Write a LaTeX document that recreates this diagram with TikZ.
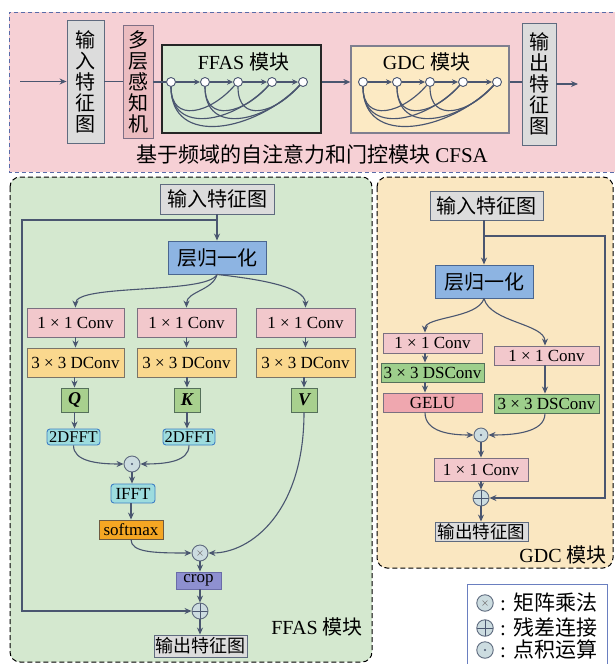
\documentclass[tikz,border=0pt]{standalone}
\usepackage{fontspec}
\setmainfont{Liberation Serif}
\newfontfamily\cjk{Noto Sans CJK SC}
\usetikzlibrary{arrows.meta,calc}
\newcommand\zh[1]{{\cjk #1}}
\newcommand\fsz[1]{\fontsize{#1}{#1}\selectfont}
\definecolor{lnc}{HTML}{4A5670}
\definecolor{pinkbg}{HTML}{F6D0D5}
\definecolor{pinkbd}{HTML}{5A6BA8}
\definecolor{graybox}{HTML}{DCDCDC}
\definecolor{graybd}{HTML}{5F6B7F}
\definecolor{mlpfill}{HTML}{EBBCC0}
\definecolor{mlpbd}{HTML}{7E6F85}
\definecolor{ffgreen}{HTML}{D6E9D3}
\definecolor{gdyellow}{HTML}{FCEAC4}
\definecolor{gdbd}{HTML}{7F7F8F}
\definecolor{pgreen}{HTML}{D4E8CF}
\definecolor{pyellow}{HTML}{FAE7C1}
\definecolor{lnfill}{HTML}{8DB4E2}
\definecolor{lnbd}{HTML}{4A6690}
\definecolor{convfill}{HTML}{F2C8CC}
\definecolor{convbd}{HTML}{7A7080}
\definecolor{dconvfill}{HTML}{FAD88E}
\definecolor{dconvbd}{HTML}{7A7468}
\definecolor{qkvfill}{HTML}{A8D08E}
\definecolor{qkvbd}{HTML}{55705A}
\definecolor{fftfill}{HTML}{9DDCDE}
\definecolor{fftbd}{HTML}{3F7FC4}
\definecolor{softfill}{HTML}{F5A623}
\definecolor{softbd}{HTML}{6E5A40}
\definecolor{cropfill}{HTML}{8E90D0}
\definecolor{cropbd}{HTML}{6A6CA8}
\definecolor{circfill}{HTML}{CCDCE0}
\definecolor{dsfill}{HTML}{9ECF8C}
\definecolor{gelufill}{HTML}{EFA7AF}
\definecolor{legbd}{HTML}{6A7FC0}
\begin{document}
\begin{tikzpicture}[x=1pt,y=-1pt,
  arr/.style={draw=lnc, line width=1.1pt, -{Stealth[length=7pt,width=6pt]}},
  sarr/.style={draw=lnc, line width=1.1pt, -{Stealth[length=6pt,width=5.5pt]}},
  lnk/.style={draw=lnc, line width=1.1pt},
  box/.style={draw=#1, line width=0.9pt, inner sep=0pt, font=\fsz{17}},
  vbox/.style={box=#1, align=center, font=\fontsize{20}{21}\selectfont\cjk},
  pt/.style={circle, draw=lnc, fill=white, line width=0.9pt, minimum size=9pt, inner sep=0pt},
  opc/.style={circle, draw=graybd, fill=circfill, line width=0.9pt, minimum size=16pt, inner sep=0pt},
  dotop/.style={opc, path picture={\fill[lnc] (path picture bounding box.center) circle (1.1pt);}},
  timesop/.style={opc, path picture={\draw[gray, line width=0.6pt] ($(path picture bounding box.center)+(-2.5,-2.5)$) -- ($(path picture bounding box.center)+(2.5,2.5)$) ($(path picture bounding box.center)+(-2.5,2.5)$) -- ($(path picture bounding box.center)+(2.5,-2.5)$);}},
  plusop/.style={opc, path picture={\draw[lnc, line width=0.7pt] (path picture bounding box.north) -- (path picture bounding box.south) (path picture bounding box.west) -- (path picture bounding box.east);}},
  lab/.style={inner sep=0pt, font=\fsz{20}}
]
\useasboundingbox (0,0) rectangle (614,664);

% ---------- top strip ----------
\fill[pinkbg] (9,12) rectangle (620,172);
\draw[pinkbd, line width=1pt, dash pattern=on 4pt off 3pt] (620,12) -- (9,12) -- (9,172) -- (620,172);

\node[vbox=graybd, fill=graybox, minimum width=37pt, minimum height=123pt] (tin) at (85.5,81.5) {输\\入\\特\\征\\图};
\node[vbox=mlpbd, fill=mlpfill, minimum width=30pt, minimum height=113pt] (mlp) at (138,81.5) {多\\层\\感\\知\\机};
\node[box=black!85, line width=1.2pt, fill=ffgreen, minimum width=159pt, minimum height=88pt] (ffbox) at (241.5,89) {};
\node[box=gdbd, line width=1.2pt, fill=gdyellow, minimum width=158pt, minimum height=87pt] (gdbox) at (430,89.5) {};
\node[vbox=graybd, fill=graybox, minimum width=34pt, minimum height=122pt] (tout) at (539,84) {输\\出\\特\\征\\图};

\node[lab] (fftitle) at (243.5,62) {FFAS \zh{模块}};
\node[lab] (gdtitle) at (426.5,62) {GDC \zh{模块}};

\foreach \n/\x in {1/171,2/205,3/238,4/272,5/303} \node[pt] (fa\n) at (\x,82) {};
\foreach \n/\x in {1/363,2/397,3/430,4/463,5/497} \node[pt] (ga\n) at (\x,82) {};

\foreach \p in {fa,ga}{
  \foreach \i/\j/\d/\w in {1/3/37/24,1/4/49/34,1/5/61/44,2/4/37/24,2/5/49/34,3/5/37/24}
    \draw[lnc, line width=1.15pt] (\p\i.south) .. controls +(0,\d) and +(-\w,0.75*\d) .. (\p\j.south west);
  \foreach \i/\j in {1/2,2/3,3/4,4/5} \draw[sarr] (\p\i) -- (\p\j);
}

\coordinate (st) at (20,81.5);
\coordinate (en) at (578,84);
\draw[arr] (st) -- (tin.west);
\draw[lnk] (tin.east) -- (mlp.west);
\draw[lnk] (mlp.east |- fa1) -- (fa1.west);
\draw[arr] (ffbox.east |- fa5) -- (gdbox.west |- fa5);
\draw[lnk] (gdbox.east |- ga5) -- (tout.west |- ga5);
\draw[arr] (tout.east |- en) -- (en);

\node[inner sep=0pt, font=\fsz{21}] (cap) at (312,154) {\zh{基于频域的自注意力和门控模块} CFSA};

% ---------- panels ----------
\draw[black, line width=1pt, dash pattern=on 5pt off 3pt, rounded corners=10pt, fill=pgreen] (10,177) rectangle (372,662);
\draw[black, line width=1pt, dash pattern=on 5pt off 3pt, rounded corners=10pt, fill=pyellow] (377,177) rectangle (613,568);
\draw[legbd, line width=1pt, fill=white] (467,584) rectangle (607,672);

% ---------- FFAS panel ----------
\node[box=graybd, fill=graybox, minimum width=114pt, minimum height=30pt, font=\fsz{20}\cjk] (in1) at (217,199) {输入特征图};
\node[box=lnbd, fill=lnfill, minimum width=98pt, minimum height=33pt, font=\fsz{20}\cjk] (ln1) at (217,257.5) {层归一化};
\foreach \n/\x/\w in {1/75.5/97,2/186.5/99,3/305.5/99}{
  \node[box=convbd, fill=convfill, minimum width=\w pt, minimum height=29pt] (c\n) at (\x,322.5) {1 × 1 Conv};
  \node[box=dconvbd, fill=dconvfill, minimum width=\w pt, minimum height=29pt] (d\n) at (\x,362.5) {3 × 3 DConv};
}
\node[box=qkvbd, fill=qkvfill, minimum width=27pt, minimum height=24pt, font=\fsz{18}\bfseries\itshape] (q) at (74.5,400) {Q};
\node[box=qkvbd, fill=qkvfill, minimum width=26pt, minimum height=24pt, font=\fsz{18}\bfseries\itshape] (k) at (187,400) {K};
\node[box=qkvbd, fill=qkvfill, minimum width=26pt, minimum height=24pt, font=\fsz{18}\bfseries\itshape] (v) at (304,400) {V};
\node[box=fftbd, fill=fftfill, rounded corners=3pt, minimum width=53pt, minimum height=16pt, font=\fsz{16.5}] (f1) at (73.5,437) {2DFFT};
\node[box=fftbd, fill=fftfill, rounded corners=3pt, minimum width=52pt, minimum height=16pt, font=\fsz{16.5}] (f2) at (189,437) {2DFFT};
\node[dotop] (dot1) at (132,464) {};
\node[box=fftbd, fill=fftfill, rounded corners=3pt, minimum width=44pt, minimum height=19pt] (ifft) at (133,493.5) {IFFT};
\node[box=softbd, fill=softfill, minimum width=64pt, minimum height=19pt] (soft) at (131,529.5) {softmax};
\node[timesop] (tim1) at (200,553) {};
\node[box=cropbd, fill=cropfill, minimum width=45pt, minimum height=17pt] (crop) at (198.5,580.5) {crop};
\node[plusop] (plus1) at (200,611) {};
\node[box=graybd, fill=graybox, minimum width=93pt, minimum height=22pt, font=\fsz{18}\cjk] (out1) at (200.5,646) {输出特征图};
\node[lab] (fflab) at (317,627) {FFAS \zh{模块}};

\draw[arr] (in1) -- (ln1);
\coordinate (s1a) at (217,220);
\coordinate (s1b) at (22,611);
\draw[arr] (s1a) -| (s1b) -- (plus1.west);
\draw[arr] (ln1.south) .. controls +(-10,20) and +(0,-24) .. (c1.north);
\draw[arr] (ln1.south) .. controls +(-4,16) and +(0,-16) .. (c2.north);
\draw[arr] (ln1.south) .. controls +(35,4) and +(0,-22) .. (c3.north);
\foreach \n in {1,2,3} \draw[arr] (c\n.south) -- (c\n.south |- d\n.north);
\draw[arr] (d1.south -| q) -- (q.north);
\draw[arr] (d2.south -| k) -- (k.north);
\draw[arr] (d3.south -| v) -- (v.north);
\draw[arr] (q.south) -- (q.south |- f1.north);
\draw[arr] (k.south) -- (k.south |- f2.north);
\draw[arr] (f1.south) .. controls +(0,16) and +(-26,0) .. (dot1.west);
\draw[arr] (f2.south) .. controls +(0,16) and +(26,0) .. (dot1.east);
\draw[arr] (dot1.south) -- (dot1.south |- ifft.north);
\draw[arr] (ifft.south -| soft.north) -- (soft.north);
\draw[arr] (soft.south) .. controls +(0,13) and +(-38,0) .. (tim1.west);
\draw[arr] (v.south) .. controls +(0,100) and +(42,0) .. (tim1.east);
\draw[arr] (tim1.south) -- (tim1.south |- crop.north);
\draw[arr] (crop.south -| plus1) -- (plus1.north);
\draw[arr] (plus1.south) -- (plus1.south |- out1.north);

% ---------- GDC panel ----------
\node[box=graybd, fill=graybox, minimum width=113pt, minimum height=29pt, font=\fsz{20}\cjk] (in2) at (486.5,205.5) {输入特征图};
\node[box=lnbd, fill=lnfill, minimum width=98pt, minimum height=33pt, font=\fsz{20}\cjk] (ln2) at (484,281.5) {层归一化};
\node[box=convbd, fill=convfill, minimum width=99pt, minimum height=20pt] (lc1) at (432.5,343) {1 × 1 Conv};
\node[box=qkvbd, fill=dsfill, minimum width=103pt, minimum height=19pt] (lds) at (432.5,372.5) {3 × 3 DSConv};
\node[box=convbd, fill=gelufill, minimum width=99pt, minimum height=19pt] (gelu) at (432.5,402.5) {GELU};
\node[box=convbd, fill=convfill, minimum width=105pt, minimum height=19pt] (rc1) at (546.5,355.5) {1 × 1 Conv};
\node[box=qkvbd, fill=dsfill, minimum width=105pt, minimum height=19pt] (rds) at (546.5,403.5) {3 × 3 DSConv};
\node[dotop, minimum size=14pt] (dot2) at (481,435) {};
\node[box=convbd, fill=convfill, minimum width=94pt, minimum height=23pt] (cv2) at (481,469.5) {1 × 1 Conv};
\node[plusop] (plus2) at (481,498) {};
\node[box=graybd, fill=graybox, minimum width=93pt, minimum height=19pt, font=\fsz{17.5}\cjk] (out2) at (481.5,531.5) {输出特征图};
\node[lab] (gdlab) at (563,555) {GDC \zh{模块}};

\draw[arr] (in2.south -| ln2) -- (ln2.north);
\coordinate (s2a) at (484,236);
\coordinate (s2b) at (605,498);
\draw[arr] (s2a) -| (s2b) -- (plus2.east);
\draw[arr] (ln2.south) .. controls +(-6,20) and +(0,-16) .. ([xshift=-7.5pt]lc1.north);
\draw[arr] (ln2.south) .. controls +(6,24) and +(0,-22) .. ([xshift=-1.5pt]rc1.north);
\draw[arr] ([xshift=-7.5pt]lc1.south) -- ([xshift=-7.5pt]lc1.south |- lds.north);
\draw[arr] ([xshift=-7.5pt]lds.south) -- ([xshift=-7.5pt]lds.south |- gelu.north);
\draw[arr] ([xshift=-1.5pt]rc1.south) -- ([xshift=-1.5pt]rc1.south |- rds.north);
\draw[arr] ([xshift=-7.5pt]gelu.south) .. controls +(0,20) and +(-22,0) .. (dot2.west);
\draw[arr] ([xshift=-1.5pt]rds.south) .. controls +(0,20) and +(22,0) .. (dot2.east);
\draw[arr] (dot2.south) -- (dot2.south |- cv2.north);
\draw[arr] (cv2.south -| plus2) -- (plus2.north);
\draw[arr] (plus2.south) -- (plus2.south |- out2.north);

% ---------- legend ----------
\node[timesop, minimum size=16.5pt] (lg1) at (485,603) {};
\node[plusop, minimum size=16.5pt] (lg2) at (485,628) {};
\node[dotop, minimum size=16.5pt] (lg3) at (485,650) {};
\node[lab, anchor=west, font=\fsz{21}] (lt1) at (500,603) {: \zh{矩阵乘法}};
\node[lab, anchor=west, font=\fsz{21}] (lt2) at (500,628) {: \zh{残差连接}};
\node[lab, anchor=west, font=\fsz{21}] (lt3) at (500,650) {: \zh{点积运算}};
\end{tikzpicture}
\end{document}
